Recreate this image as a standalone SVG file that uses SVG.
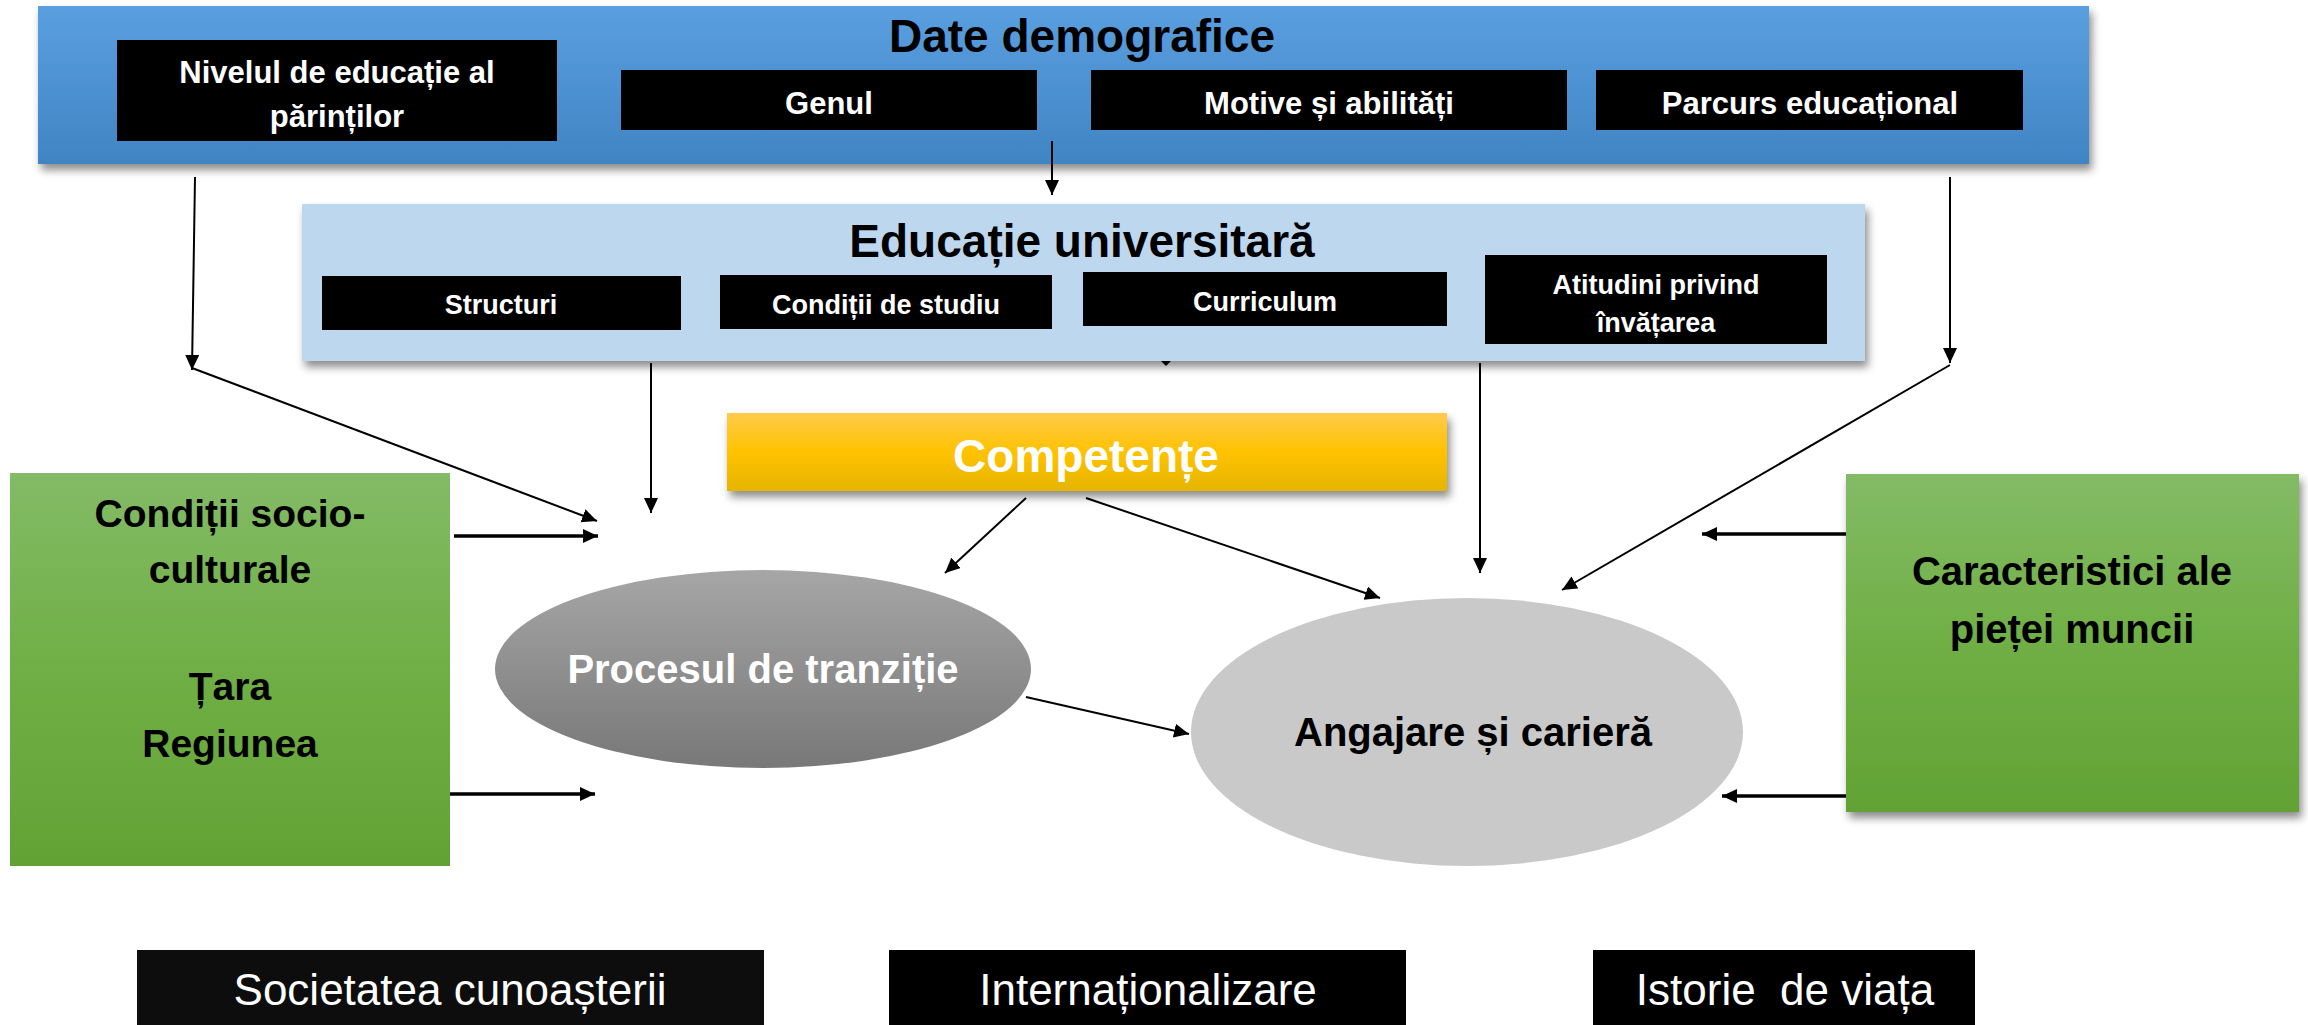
<svg xmlns="http://www.w3.org/2000/svg" width="2308" height="1025" viewBox="0 0 2308 1025">
<defs>
<linearGradient id="gBlue" x1="0" y1="0" x2="0" y2="1"><stop offset="0" stop-color="#5a9fe0"/><stop offset="1" stop-color="#4084c3"/></linearGradient>
<linearGradient id="gGold" x1="0" y1="0" x2="0" y2="1"><stop offset="0" stop-color="#ffcb4c"/><stop offset="0.5" stop-color="#ffc200"/><stop offset="1" stop-color="#e5b500"/></linearGradient>
<linearGradient id="gGreen" x1="0" y1="0" x2="0" y2="1"><stop offset="0" stop-color="#83bb66"/><stop offset="0.5" stop-color="#70af45"/><stop offset="1" stop-color="#62a235"/></linearGradient>
<linearGradient id="gGray" x1="0" y1="0" x2="0" y2="1"><stop offset="0" stop-color="#a6a6a6"/><stop offset="1" stop-color="#787878"/></linearGradient>
<filter id="shadow" x="-5%" y="-10%" width="110%" height="130%"><feDropShadow dx="3" dy="6" stdDeviation="4" flood-color="#000" flood-opacity="0.45"/></filter>
<marker id="ah" markerUnits="userSpaceOnUse" markerWidth="16" markerHeight="15" refX="15" refY="7" orient="auto"><path d="M0,0 L15,7 L0,14 z" fill="#000"/></marker>
<style>
.bt{font-family:"Liberation Sans",Arial,sans-serif;font-weight:bold;text-anchor:middle}
.wt{fill:#fff}
.kt{fill:#000}
.rt{font-family:"Liberation Sans",Arial,sans-serif;fill:#fff;text-anchor:middle;font-size:44px;white-space:pre}
.ln{stroke:#000;stroke-width:2;fill:none;marker-end:url(#ah)}
.lnk{stroke:#000;stroke-width:3.5;fill:none;marker-end:url(#ah)}
</style>
</defs>
<rect width="2308" height="1025" fill="#fff"/>

<g id="demografice">
<rect x="38" y="6" width="2051" height="158" fill="url(#gBlue)" filter="url(#shadow)"/>
<text class="bt kt" x="1082" y="52" font-size="46">Date demografice</text>
</g>
<g id="nivelul">
<rect x="117" y="40" width="440" height="101" fill="#000"/>
<text class="bt wt" x="337" y="83" font-size="31">Nivelul de educație al</text>
<text class="bt wt" x="337" y="127" font-size="31">părinților</text>
</g>
<g id="genul">
<rect x="621" y="70" width="416" height="60" fill="#000"/>
<text class="bt wt" x="829" y="114" font-size="31">Genul</text>
</g>
<g id="motive">
<rect x="1091" y="70" width="476" height="60" fill="#000"/>
<text class="bt wt" x="1329" y="114" font-size="31">Motive și abilități</text>
</g>
<g id="parcurs">
<rect x="1596" y="70" width="427" height="60" fill="#000"/>
<text class="bt wt" x="1810" y="114" font-size="31">Parcurs educațional</text>
</g>

<g id="educatie">
<rect x="302" y="204" width="1563" height="157" fill="#bdd7ee" filter="url(#shadow)"/>
<text class="bt kt" x="1082" y="257" font-size="46">Educație universitară</text>
</g>
<g id="structuri">
<rect x="322" y="276" width="359" height="54" fill="#000"/>
<text class="bt wt" x="501" y="314" font-size="27">Structuri</text>
</g>
<g id="conditii-studiu">
<rect x="720" y="275" width="332" height="54" fill="#000"/>
<text class="bt wt" x="886" y="314" font-size="27">Condiții de studiu</text>
</g>
<g id="curriculum">
<rect x="1083" y="272" width="364" height="54" fill="#000"/>
<text class="bt wt" x="1265" y="311" font-size="27">Curriculum</text>
</g>
<g id="atitudini">
<rect x="1485" y="255" width="342" height="89" fill="#000"/>
<text class="bt wt" x="1656" y="294" font-size="27">Atitudini privind</text>
<text class="bt wt" x="1656" y="332" font-size="27">învățarea</text>
</g>

<g id="competente">
<rect x="727" y="413" width="720" height="78" fill="url(#gGold)" filter="url(#shadow)"/>
<text class="bt wt" x="1086" y="472" font-size="46">Competențe</text>
</g>

<g id="socio">
<rect x="10" y="473" width="440" height="393" fill="url(#gGreen)"/>
<text class="bt kt" x="230" y="527" font-size="39">Condiții socio-</text>
<text class="bt kt" x="230" y="583" font-size="39">culturale</text>
<text class="bt kt" x="230" y="700" font-size="39">Țara</text>
<text class="bt kt" x="230" y="757" font-size="39">Regiunea</text>
</g>

<g id="procesul">
<ellipse cx="763" cy="669" rx="268" ry="99" fill="url(#gGray)"/>
<text class="bt wt" x="763" y="683" font-size="40">Procesul de tranziție</text>
</g>

<g id="angajare">
<ellipse cx="1467" cy="732" rx="276" ry="134" fill="#c9c9c9"/>
<text class="bt kt" x="1473" y="746" font-size="40">Angajare și carieră</text>
</g>

<g id="piata">
<rect x="1846" y="474" width="453" height="338" fill="url(#gGreen)" filter="url(#shadow)"/>
<text class="bt kt" x="2072" y="585" font-size="40">Caracteristici ale</text>
<text class="bt kt" x="2072" y="643" font-size="40">pieței muncii</text>
</g>

<g id="societatea">
<rect x="137" y="950" width="627" height="75" fill="#0d0d0d"/>
<text class="rt" x="450" y="1005">Societatea cunoașterii</text>
</g>
<g id="internationalizare">
<rect x="889" y="950" width="517" height="75" fill="#000"/>
<text class="rt" x="1148" y="1005">Internaționalizare</text>
</g>
<g id="istorie">
<rect x="1593" y="950" width="382" height="75" fill="#000"/>
<text class="rt" x="1785" y="1005">Istorie  de viața</text>
</g>

<g id="connectors">
<line class="ln" x1="1052" y1="141" x2="1052" y2="195"/>
<polygon points="1161,361 1171,361 1166,366" fill="#000"/>
<line class="ln" x1="195" y1="177" x2="192" y2="370"/>
<line class="ln" x1="192" y1="368" x2="597" y2="521"/>
<line class="ln" x1="651" y1="363" x2="651" y2="513"/>
<line class="ln" x1="1480" y1="363" x2="1480" y2="573"/>
<line class="ln" x1="1950" y1="177" x2="1950" y2="363"/>
<line class="ln" x1="1950" y1="365" x2="1562" y2="590"/>
<line class="ln" x1="1026" y1="498" x2="945" y2="573"/>
<line class="ln" x1="1086" y1="498" x2="1380" y2="598"/>
<line class="ln" x1="1026" y1="697" x2="1189" y2="734"/>
<line class="lnk" x1="454" y1="536" x2="598" y2="536"/>
<line class="lnk" x1="450" y1="794" x2="595" y2="794"/>
<line class="lnk" x1="1846" y1="534" x2="1702" y2="534"/>
<line class="lnk" x1="1846" y1="796" x2="1722" y2="796"/>
</g>
</svg>
